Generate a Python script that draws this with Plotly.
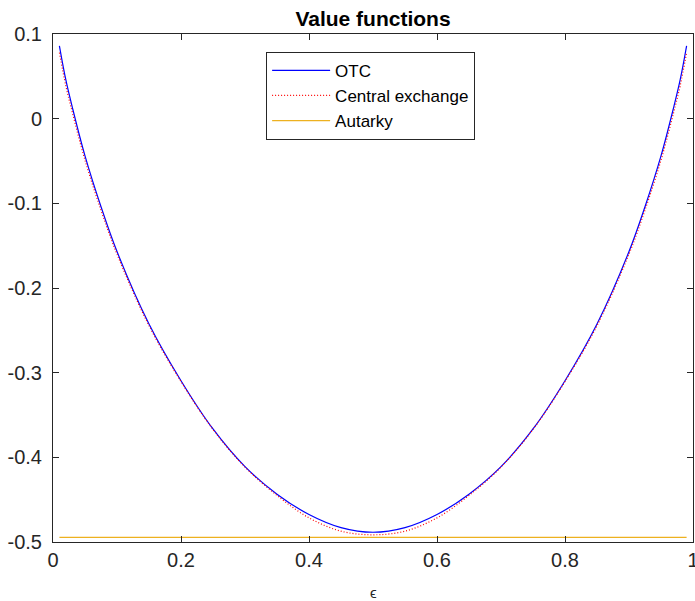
import plotly.graph_objects as go

# ---- data ----
eps = [0.01, 0.02, 0.03, 0.05, 0.075, 0.1, 0.15, 0.2, 0.25, 0.3, 0.35, 0.4, 0.45, 0.5,
       0.55, 0.6, 0.65, 0.7, 0.75, 0.8, 0.85, 0.9, 0.925, 0.95, 0.97, 0.98, 0.99]
otc = [0.086, 0.046, 0.014, -0.044, -0.104, -0.157, -0.2425, -0.3095, -0.3665, -0.411, -0.4435, -0.4675, -0.483, -0.4885,
       -0.483, -0.4675, -0.4435, -0.411, -0.3665, -0.3095, -0.2425, -0.157, -0.104, -0.044, 0.014, 0.046, 0.086]
central = [0.078, 0.039, 0.008, -0.049, -0.108, -0.160, -0.2445, -0.3105, -0.367, -0.4115, -0.445, -0.4715, -0.4872, -0.4915,
           -0.4872, -0.4715, -0.445, -0.4115, -0.367, -0.3105, -0.2445, -0.160, -0.108, -0.049, 0.008, 0.039, 0.078]
autarky_eps = [0.01, 0.99]
autarky = [-0.4945, -0.4945]

x_ticks = [0, 0.2, 0.4, 0.6, 0.8, 1]
x_ticktext = ["0", "0.2", "0.4", "0.6", "0.8", "1"]
y_ticks = [0.1, 0, -0.1, -0.2, -0.3, -0.4, -0.5]
y_ticktext = ["0.1", "0", "-0.1", "-0.2", "-0.3", "-0.4", "-0.5"]

FONT = "Liberation Sans, Arial, Helvetica, sans-serif"
AX = "#262626"

fig = go.Figure()
fig.add_trace(go.Scatter(x=eps, y=otc, mode="lines", name="OTC",
                         line=dict(color="#0000FF", width=1.2, shape="spline", smoothing=1)))
fig.add_trace(go.Scatter(x=eps, y=central, mode="lines", name="Central exchange",
                         line=dict(color="#FF0000", width=1.2, dash="1px,2px", shape="spline", smoothing=1)))
fig.add_trace(go.Scatter(x=autarky_eps, y=autarky, mode="lines", name="Autarky",
                         line=dict(color="#EDB120", width=1.2)))

fig.update_layout(
    width=695, height=601,
    margin=dict(l=53, r=2, t=34, b=59, autoexpand=False),
    paper_bgcolor="white", plot_bgcolor="white",
    font=dict(family=FONT, color=AX),
    title=dict(text="<b>Value functions</b>", x=(53 + 693) / 2 / 695, xanchor="center",
               y=1 - 19 / 601, yanchor="middle", font=dict(size=21, color="#000000", family=FONT)),
    showlegend=True,
    legend=dict(x=0.333, y=0.965, xanchor="left", yanchor="top",
                bgcolor="white", bordercolor=AX, borderwidth=1,
                font=dict(size=17, color="#000000", family=FONT),
                itemwidth=58, tracegroupgap=0),
    annotations=[dict(text="ϵ", xref="paper", yref="paper", x=0.5, y=-(592 - 542) / 508,
                      xanchor="center", yanchor="middle", showarrow=False,
                      font=dict(size=15, color=AX, family=FONT))],
)
fig.update_xaxes(range=[0, 1], tickvals=x_ticks, ticktext=x_ticktext, automargin=False,
                 showline=True, linecolor=AX, linewidth=1, mirror="ticks",
                 ticks="inside", ticklen=6, tickcolor=AX, showgrid=False, zeroline=False,
                 ticklabeloverflow="allow",
                 tickfont=dict(size=20, color=AX, family=FONT))
fig.update_yaxes(range=[-0.5, 0.1], tickvals=y_ticks, ticktext=y_ticktext, automargin=False,
                 showline=True, linecolor=AX, linewidth=1, mirror="ticks",
                 ticks="inside", ticklen=6, tickcolor=AX, showgrid=False, zeroline=False,
                 ticklabeloverflow="allow",
                 tickfont=dict(size=20, color=AX, family=FONT), ticklabelstandoff=6)

fig.write_html("out.html", config={"displayModeBar": False},
               post_script="document.body.style.margin='0';document.body.style.overflow='hidden';")
